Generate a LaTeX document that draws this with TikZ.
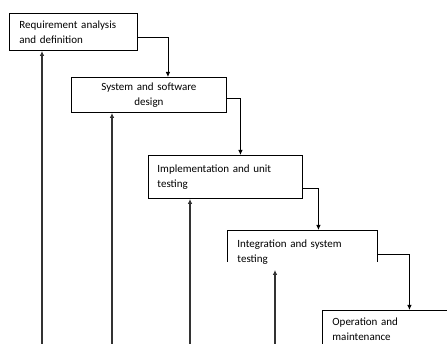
\documentclass[tikz,border=0pt]{standalone}
\usepackage{fontspec}
\setmainfont{Carlito}
\usetikzlibrary{arrows.meta}

\begin{document}
\begin{tikzpicture}[x=1pt,y=-1pt,
  phase/.style={draw,line width=0.9pt,anchor=north west,align=left,inner xsep=10pt,inner ysep=0pt,font=\fontsize{11}{15}\selectfont},
  flow/.style={line width=0.9pt,-{Latex[length=5pt,width=4.5pt]}},
  back/.style={line width=1.2pt,draw=black!80,-{Latex[length=5pt,width=4.5pt]}}]
\useasboundingbox (0,0) rectangle (447,344);
\clip (0,0) rectangle (447,344);
\node[phase,text width=108pt,minimum height=37pt] (req) at (9,13) {Requirement analysis\\and definition};
\node[phase,text width=135pt,minimum height=35pt,align=center] (design) at (71,77) {System and software\\design};
\node[phase,text width=136pt,minimum height=43pt,inner xsep=9pt] (impl) at (148,155) {Implementation and unit\\testing};
\node[phase,draw=none,text width=130pt,minimum height=43pt] (integ) at (227,230) {Integration and system\\testing};
\draw[line width=0.9pt] (integ.north west) ++(0,32) -- (integ.north west) -- (integ.north east) -- ++(0,32);
\node[phase,text width=150pt,minimum height=37pt] (oper) at (322,310) {Operation and\\maintenance};

\draw[flow] ([yshift=-5.5pt]req.east) -| ([xshift=19pt]design.north);
\draw[flow] ([yshift=-3.5pt]design.east) -| ([xshift=15pt]impl.north);
\draw[flow] ([yshift=-11.5pt]impl.east) -| ([xshift=16pt]integ.north);
\draw[flow] ([yshift=-2.5pt]integ.east) -| ([xshift=2pt]oper.north);

\coordinate (f1) at (42,344);
\coordinate (f2) at (112,344);
\coordinate (f3) at (190,344);
\coordinate (f4) at (275,344);
\draw[back] (f1) -- (f1 |- req.south);
\draw[back] (f2) -- (f2 |- design.south);
\draw[back] (f3) -- (f3 |- impl.south);
\draw[back] (f4) -- ([yshift=4pt]f4 |- integ.south);

\end{tikzpicture}
\end{document}
